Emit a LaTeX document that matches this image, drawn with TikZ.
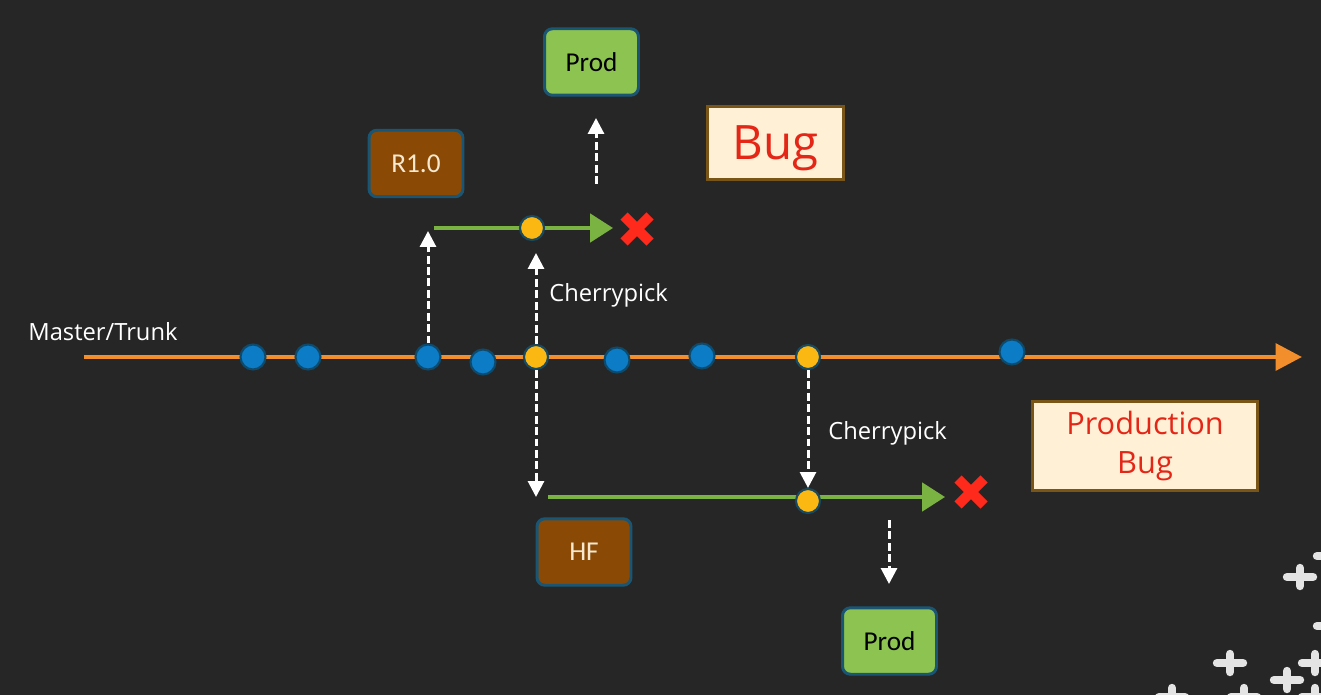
\documentclass[tikz,border=0pt]{standalone}
\usepackage{fontspec}
\setmainfont{Open Sans}
\newfontfamily\boxfont{Carlito}
\usetikzlibrary{arrows.meta}
\definecolor{bg}{HTML}{262626}
\definecolor{trunk}{HTML}{F28E2B}
\definecolor{dotblue}{HTML}{0C7CC6}
\definecolor{dotedge}{HTML}{0D4A6B}
\definecolor{dotyellow}{HTML}{FBB812}
\definecolor{yedge}{HTML}{184A62}
\definecolor{branch}{HTML}{7BB342}
\definecolor{prodgreen}{HTML}{8DC451}
\definecolor{boxedge}{HTML}{1A5673}
\definecolor{relbrown}{HTML}{8A4A06}
\definecolor{cream}{HTML}{F7E8CE}
\definecolor{notefill}{HTML}{FFF0D6}
\definecolor{notedge}{HTML}{7A5518}
\definecolor{bugred}{HTML}{E42617}
\definecolor{xred}{HTML}{FF2A1B}
\definecolor{plusgray}{HTML}{E4E4E4}
\begin{document}
\begin{tikzpicture}[x=0.02cm,y=-0.02cm,
  commit/.style={circle, fill=dotblue, draw=dotedge, line width=1.2pt, minimum size=0.5cm, inner sep=0pt},
  pick/.style={commit, fill=dotyellow, draw=yedge, minimum size=0.48cm},
  trunkline/.style={draw=trunk, line width=2.8pt, -{Triangle[length=15pt,width=15pt]}},
  branchline/.style={draw=branch, line width=2.3pt, -{Triangle[length=13pt,width=16pt]}},
  flow/.style={draw=white, line width=1.7pt, dash pattern=on 4.5pt off 2pt, -{Triangle[length=9pt,width=9pt]}},
  envbox/.style={rounded corners=4.5pt, draw=boxedge, line width=1.7pt, minimum width=1.88cm, minimum height=1.33cm, inner sep=0pt, font=\boxfont\fontsize{15.5}{18}\selectfont},
  prodbox/.style={envbox, fill=prodgreen, text=black},
  relbox/.style={envbox, fill=relbrown, text=cream},
  note/.style={draw=notedge, fill=notefill, line width=1.3pt, text=bugred, inner sep=0pt, align=center},
  lbl/.style={text=white, font=\fontsize{13.5}{16}\selectfont, inner sep=0pt},
  cross/.style={draw=xred, line width=5.7pt},
  plus/.style={draw=plusgray, line width=4.8pt, line cap=round}]

\useasboundingbox (0,0) rectangle (1321,695);
\fill[bg] (0,0) rectangle (1321,695);

% decorative pluses
\begin{scope}
\clip (0,0) rectangle (1321,695);
\foreach \px/\py in {1300/577, 1230/663, 1287/680, 1315/663, 1172/697, 1244/697, 1315/697, 1330/556, 1330/626}{
  \draw[plus] (\px-13,\py) -- (\px+13,\py);
  \draw[plus] (\px,\py-9) -- (\px,\py+9);
}
\end{scope}

% trunk
\coordinate (mstart) at (84,357);
\coordinate (mend) at (1302,357);
\draw[trunkline] (mstart) -- (mend);
\node[lbl, anchor=base west] (mlabel) at (28,341) {Master/Trunk};

% release branch line
\coordinate (rbs) at (434,228);
\coordinate (rbe) at (613,228);
\draw[branchline] (rbs) -- (rbe);

% hotfix branch line
\coordinate (hbs) at (548,497);
\coordinate (hbe) at (945,497);
\draw[branchline] (hbs) -- (hbe);

% commits on trunk
\node[commit] (c1) at (253,357) {};
\node[commit] (c2) at (308,357) {};
\node[commit] (c3) at (428,357) {};
\node[commit] (c4) at (483,362) {};
\node[pick]   (p1) at (536,357) {};
\node[commit] (c5) at (617,360) {};
\node[commit] (c6) at (702,356) {};
\node[pick]   (p2) at (808,357) {};
\node[commit] (c7) at (1012,352) {};

% commits on branches
\node[pick] (rp) at (532,228) {};
\node[pick] (hp) at (808,501) {};

% boxes
\node[relbox] (r10) at (416,163.5) {R1.0};
\node[prodbox] (prod1) at (591.5,62) {Prod};
\node[relbox] (hf) at (584,552) {HF};
\node[prodbox] (prod2) at (889.5,641) {Prod};
\node[note, minimum width=2.72cm, minimum height=1.46cm, text depth=0pt, font=\fontsize{27}{30}\selectfont] (bug) at (775.5,143) {Bug};
\node[note, minimum width=4.5cm, minimum height=1.78cm, font=\fontsize{17.5}{22.7}\selectfont] (pbug) at (1145,446) {Production\\Bug};

% dashed flows
\coordinate (rup) at (428,231);
\draw[flow] (c3.north) -- (rup);
\coordinate (cpup) at (536,253);
\draw[flow] (p1.north) -- (cpup);
\coordinate (hdown) at (536,497);
\draw[flow] (p1.south) -- (hdown);
\draw[flow] (p2.south) -- (hp.north);
\coordinate (pu1) at (596,184);
\coordinate (pu2) at (596,118);
\draw[flow] (pu1) -- (pu2);
\coordinate (pd1) at (889,520);
\coordinate (pd2) at (889,584);
\draw[flow] (pd1) -- (pd2);

% labels
\node[lbl, anchor=base west] (cp1) at (549,302) {Cherrypick};
\node[lbl, anchor=base west] (cp2) at (828,439) {Cherrypick};

% red crosses
\coordinate (x1) at (637,229);
\coordinate (x2) at (971,492);
\foreach \c in {x1,x2}{
  \draw[cross] ([shift={(-13,-13)}]\c) -- ([shift={(13,13)}]\c);
  \draw[cross] ([shift={(-13,13)}]\c) -- ([shift={(13,-13)}]\c);
}
\end{tikzpicture}
\end{document}
